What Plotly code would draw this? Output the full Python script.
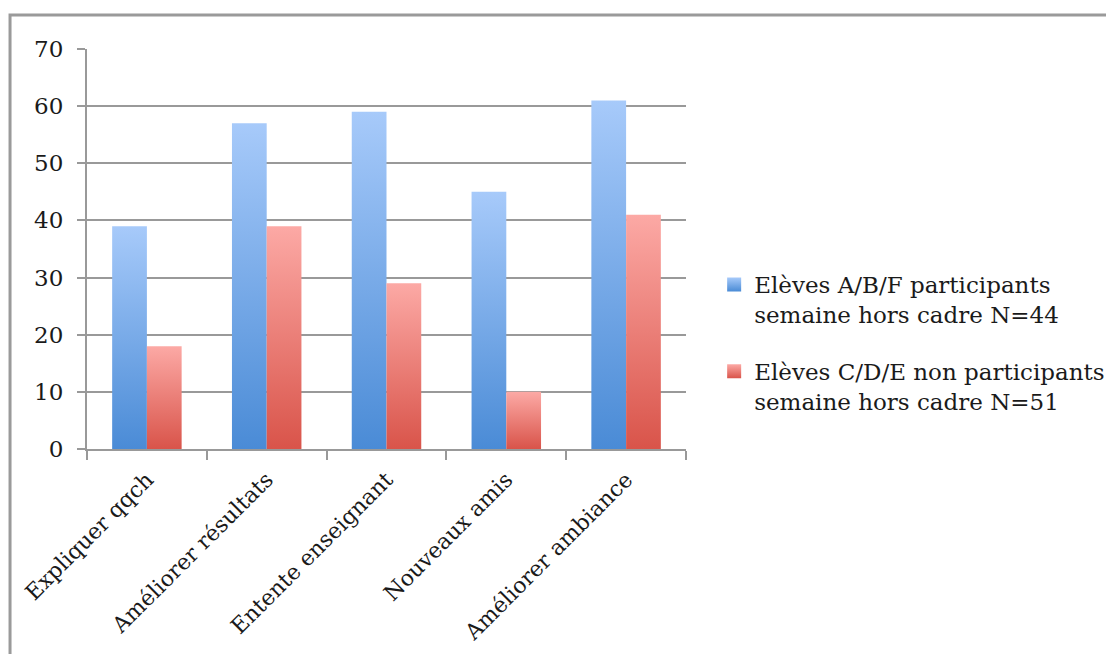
import plotly.graph_objects as go

# Survey results: share of pupils (%) per statement
categories = ["Expliquer qqch", "Améliorer résultats", "Entente enseignant",
              "Nouveaux amis", "Améliorer ambiance"]
participants = [39, 57, 59, 45, 61]
non_participants = [18, 39, 29, 10, 41]

series_names = ["Elèves A/B/F participants<br>semaine hors cadre N=44",
                "Elèves C/D/E non participants<br>semaine hors cadre N=51"]
y_ticks = [0, 10, 20, 30, 40, 50, 60, 70]

BLUE_TOP, BLUE_BOTTOM = "#a7cafa", "#4a8bd6"
RED_TOP, RED_BOTTOM = "#fca9a5", "#d9544a"
BAR_W = 0.29
GRID = "#999999"
TEXT = "#1a1a1a"
FONT = "DejaVu Serif"
FSIZE = 23

fig = go.Figure()


def add_bar(x_left, value, top, bottom, group):
    # one bar as a filled rectangle with a vertical colour gradient
    x_right = x_left + BAR_W
    fig.add_trace(go.Scatter(
        x=[x_left, x_left, x_right, x_right, x_left],
        y=[0, value, value, 0, 0],
        mode="lines", fill="toself",
        line=dict(width=0, color="rgba(0,0,0,0)"),
        fillgradient=dict(type="vertical",
                          colorscale=[[0, bottom], [1, top]]),
        hoveron="fills", name=str(value),
        legendgroup=group, showlegend=False,
    ))


for i, (a, b) in enumerate(zip(participants, non_participants)):
    add_bar(i - BAR_W, a, BLUE_TOP, BLUE_BOTTOM, "g1")
    add_bar(i, b, RED_TOP, RED_BOTTOM, "g2")

# legend entries
for name, top, bottom, group in [(series_names[0], BLUE_TOP, BLUE_BOTTOM, "g1"),
                                 (series_names[1], RED_TOP, RED_BOTTOM, "g2")]:
    fig.add_trace(go.Scatter(
        x=[None], y=[None], mode="markers", name=name, legendgroup=group,
        marker=dict(symbol="square", size=14, color=top,
                    gradient=dict(type="vertical", color=bottom),
                    line=dict(width=0)),
    ))

n = len(categories)
fig.update_layout(
    width=1106, height=654,
    margin=dict(l=87, r=420, t=49, b=205, autoexpand=False),
    paper_bgcolor="white", plot_bgcolor="white",
    font=dict(family=FONT, size=FSIZE, color=TEXT),
    showlegend=True,
    legend=dict(x=1.047, y=0.465, xanchor="left", yanchor="top",
                valign="top", tracegroupgap=24,
                font=dict(family=FONT, size=FSIZE, color=TEXT),
                bgcolor="rgba(0,0,0,0)"),
    xaxis=dict(range=[-0.5, n - 0.5], tickvals=list(range(n)),
               ticktext=categories, tickangle=-45, ticks="",
               ticklabelstandoff=7,
               showgrid=False, zeroline=False,
               showline=True, linecolor=GRID, linewidth=2,
               minor=dict(tickvals=[k - 0.5 for k in range(n + 1)],
                          ticks="outside", ticklen=9, tickwidth=2,
                          tickcolor=GRID, showgrid=False),
               tickfont=dict(family=FONT, size=22, color=TEXT),
               automargin=False, fixedrange=True),
    yaxis=dict(range=[0, 70], tickvals=y_ticks,
               showgrid=True, gridcolor=GRID, gridwidth=2,
               zeroline=False, showline=True, linecolor=GRID, linewidth=2,
               ticks="outside", ticklen=8, tickwidth=2, tickcolor=GRID,
               ticklabelstandoff=9,
               tickfont=dict(family=FONT, size=FSIZE, color=TEXT),
               automargin=False, fixedrange=True),
    shapes=[dict(type="rect", xref="paper", yref="paper",
                 x0=-0.1285, x1=2.0, y0=-1.0, y1=1.085,
                 line=dict(color="#9a9a9a", width=3), layer="below")],
)

fig.write_html("out.html")
